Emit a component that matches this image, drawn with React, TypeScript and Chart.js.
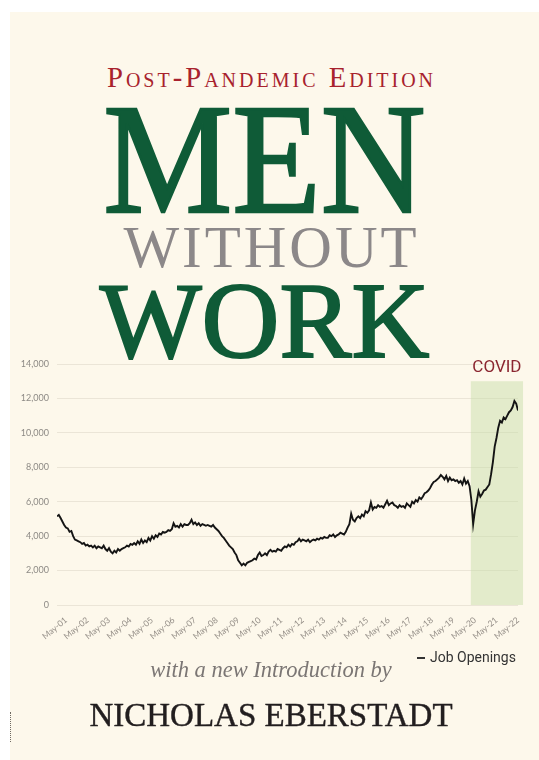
import React, { useEffect, useRef } from "react";
import { Chart, registerables } from "chart.js";

Chart.register(...registerables);

// Monthly job openings (thousands), Dec 2000 through May 2022
const jobOpenings: number[] = [
  5150,
  // 2001
  5230, 5050, 4850, 4650, 4500, 4450, 4250, 4300, 4000, 3800, 3750, 3700,
  // 2002
  3650, 3550, 3600, 3450, 3500, 3400, 3450, 3350, 3450, 3300, 3400, 3350,
  // 2003
  3300, 3450, 3250, 3150, 3300, 3100, 3000, 3150, 3050, 3250, 3150, 3250,
  // 2004
  3300, 3350, 3450, 3400, 3550, 3500, 3600, 3500, 3700, 3550, 3800, 3600,
  // 2005
  3750, 3650, 3900, 3750, 4000, 3850, 4050, 3950, 4150, 4100, 4250, 4200,
  // 2006
  4250, 4350, 4300, 4400, 4750, 4550, 4600, 4500, 4700, 4550, 4700, 4650,
  // 2007
  4650, 4750, 4950, 4700, 4800, 4650, 4750, 4600, 4700, 4650, 4600, 4650,
  // 2008
  4600, 4550, 4650, 4500, 4400, 4300, 4150, 4000, 3900, 3750, 3600, 3450,
  // 2009
  3350, 3250, 3050, 2900, 2600, 2450, 2300, 2400, 2300, 2450, 2500, 2550,
  // 2010
  2600, 2700, 2650, 2900, 3050, 2850, 2900, 3000, 2900, 3100, 3200, 3100,
  // 2011
  3150, 3100, 3250, 3200, 3150, 3300, 3400, 3350, 3500, 3400, 3550, 3500,
  // 2012
  3650, 3700, 3850, 3700, 3800, 3750, 3700, 3800, 3650, 3750, 3800, 3750,
  // 2013
  3850, 3800, 3900, 3850, 3950, 3900, 3900, 4050, 4000, 4100, 3950, 4050,
  // 2014
  4100, 4200, 4150, 4100, 4250, 4500, 4700, 5300, 4950, 4850, 5050, 5150,
  // 2015
  5050, 5250, 5150, 5450, 5350, 5500, 5950, 5550, 5700, 5650, 5800, 5700,
  // 2016
  5750, 5650, 5850, 6050, 5800, 5900, 5950, 5800, 5750, 5650, 5800, 5700,
  // 2017
  5750, 5650, 5900, 5800, 5700, 6000, 5900, 6100, 6000, 6250, 6150, 6300,
  // 2018
  6500, 6550, 6650, 6800, 7000, 7150, 7200, 7300, 7400, 7550, 7450, 7300,
  // 2019
  7500, 7200, 7400, 7250, 7300, 7200, 7250, 7100, 7200, 7000, 7350, 7050,
  // 2020
  7200, 6900, 6100, 4700, 5500, 6000, 6600, 6300, 6450, 6650, 6700, 6850,
  // 2021
  7000, 7600, 8300, 9200, 9700, 10300, 10700, 10600, 10900, 10800, 11000, 11200,
  // 2022
  11300, 11500, 11850, 11700, 11300,
];

const tickLabels: string[] = [
  "May-01", "May-02", "May-03", "May-04", "May-05", "May-06", "May-07", "May-08",
  "May-09", "May-10", "May-11", "May-12", "May-13", "May-14", "May-15", "May-16",
  "May-17", "May-18", "May-19", "May-20", "May-21", "May-22",
];
const firstTickIndex = 5; // May 2001 is the 6th month of the series
const yTicks = { min: 0, max: 14000, step: 2000 };
const covidBand = { start: 230.7, end: 259.8, top: 13000 };
const seriesName = "Job Openings";

const SERIF = '"Liberation Serif", "DejaVu Serif", serif';

const covidPlugin = {
  id: "covidBand",
  beforeDatasetsDraw(chart: any) {
    const { ctx, scales } = chart;
    const x = scales.x;
    const y = scales.y;
    const left = x.getPixelForValue(covidBand.start);
    const right = x.getPixelForValue(covidBand.end);
    const top = y.getPixelForValue(covidBand.top);
    const bottom = y.getPixelForValue(0);
    ctx.save();
    ctx.fillStyle = "rgba(196,220,165,0.45)";
    ctx.fillRect(left, top, right - left, bottom - top);
    ctx.font = "17px Roboto";
    ctx.fillStyle = "#8b2630";
    ctx.textAlign = "center";
    ctx.textBaseline = "bottom";
    ctx.fillText("COVID", (left + right) / 2, top - 5);
    ctx.restore();
  },
};

function TextLine(props: {
  text: string;
  size: number;
  baseline: number;
  center: number;
  color: string;
  weight?: number;
  sx?: number;
  ls?: number;
  stroke?: number;
  italic?: boolean;
  caps?: boolean;
}) {
  const { text, size, baseline, center, color, weight = 400, sx = 1, ls = 0, stroke = 0, italic = false, caps = false } = props;
  const top = baseline - 0.8375 * size;
  return (
    <div
      style={{
        position: "absolute",
        left: center - 500 + ls / 2,
        width: 1000,
        top,
        textAlign: "center",
        fontFamily: SERIF,
        fontSize: size,
        lineHeight: `${size}px`,
        color,
        fontWeight: weight,
        fontStyle: italic ? "italic" : "normal",
        fontVariant: caps ? "small-caps" : "normal",
        letterSpacing: ls,
        whiteSpace: "nowrap",
        WebkitTextStroke: stroke ? `${stroke}px ${color}` : undefined,
      }}
    >
      <span style={{ display: "inline-block", transform: `scaleX(${sx})` }}>{text}</span>
    </div>
  );
}

export default function App() {
  const canvasRef = useRef<HTMLCanvasElement | null>(null);

  useEffect(() => {
    if (!canvasRef.current) return;
    const tickMonths = tickLabels.map((_, i) => firstTickIndex + 12 * i);
    const chart = new Chart(canvasRef.current, {
      type: "line",
      data: {
        datasets: [
          {
            label: seriesName,
            data: jobOpenings.map((v, i) => ({ x: i, y: v })),
            borderColor: "#141414",
            borderWidth: 1.9,
            pointRadius: 0,
            tension: 0,
            fill: false,
          },
        ],
      },
      options: {
        animation: false,
        responsive: false,
        devicePixelRatio: 1,
        layout: { padding: { left: 0, right: 21, top: 14, bottom: 0 } },
        plugins: { legend: { display: false }, tooltip: { enabled: false } },
        scales: {
          x: {
            type: "linear",
            min: 0,
            max: jobOpenings.length - 1,
            grid: { display: false, drawTicks: false },
            border: { display: false },
            afterBuildTicks: (s: any) => {
              s.ticks = tickMonths.map((v) => ({ value: v }));
            },
            afterFit: (s: any) => {
              s.height = 45;
            },
            ticks: {
              autoSkip: false,
              minRotation: 40,
              maxRotation: 40,
              padding: 10,
              color: "#958f88",
              font: { size: 8.5, family: "Lato" },
              callback: (v: any) => tickLabels[(Number(v) - firstTickIndex) / 12] ?? "",
            },
          },
          y: {
            min: yTicks.min,
            max: yTicks.max,
            grid: { color: "#ebe5d7", drawTicks: false },
            border: { display: false },
            afterFit: (s: any) => {
              s.width = 57;
            },
            ticks: {
              stepSize: yTicks.step,
              padding: 8,
              color: "#8d8a85",
              font: { size: 9, family: "Lato" },
              callback: (v: any) => Number(v).toLocaleString("en-US"),
            },
          },
        },
      },
      plugins: [covidPlugin],
    });
    return () => chart.destroy();
  }, []);

  return (
    <div style={{ position: "absolute", left: 0, top: 0, width: 539, height: 760, background: "#ffffff", overflow: "hidden" }}>
      <div style={{ position: "absolute", left: 10, top: 12, width: 529, height: 748, background: "#fdf8eb" }} />
      <div style={{ position: "absolute", left: 10, top: 712, height: 30, borderLeft: "1px dotted #6f6a62" }} />
      <TextLine text="Post-Pandemic Edition" size={28.7} baseline={87} center={270} color="#a8222d" ls={3} caps />
      <TextLine text="MEN" size={156} baseline={213} center={264} color="#0f5b37" sx={0.93} stroke={2.5} />
      <TextLine text="WITHOUT" size={59} baseline={267} center={270} color="#8c8889" ls={3} />
      <TextLine text="WORK" size={109} baseline={357} center={265} color="#0f5b37" sx={0.99} stroke={2} />
      <canvas ref={canvasRef} width={539} height={300} style={{ position: "absolute", left: 0, top: 350, width: 539, height: 300 }} />
      <div
        style={{
          position: "absolute",
          left: 417,
          top: 649,
          fontFamily: "Roboto, sans-serif",
          fontSize: 14,
          lineHeight: "16px",
          color: "#333333",
          whiteSpace: "nowrap",
        }}
      >
        <span style={{ display: "inline-block", width: 8, height: 2, background: "#333", verticalAlign: "middle", marginRight: 5 }} />
        {seriesName}
      </div>
      <TextLine text="with a new Introduction by" size={22.5} baseline={678} center={271} color="#7b7674" italic />
      <TextLine text="NICHOLAS EBERSTADT" size={33} baseline={727} center={271} color="#221e1f" stroke={0.4} />
    </div>
  );
}
